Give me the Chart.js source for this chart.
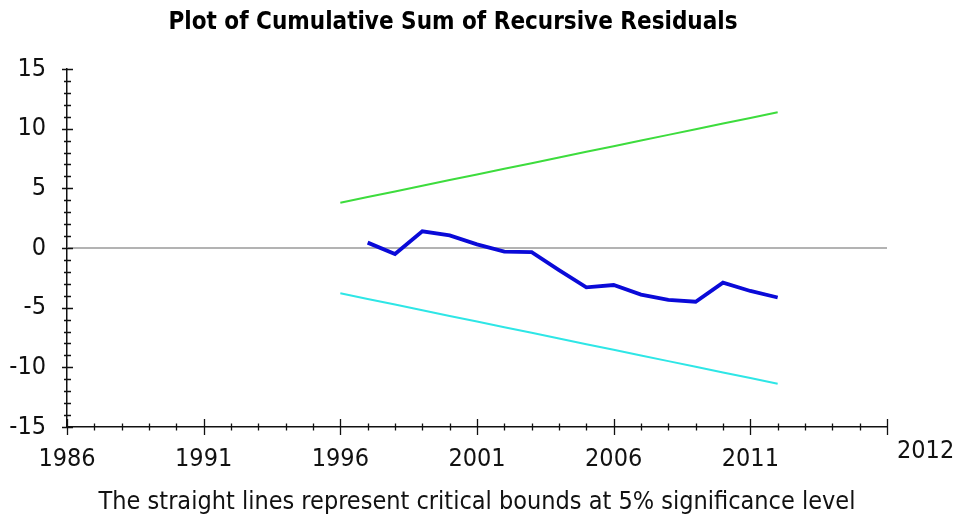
<!DOCTYPE html>
<html>
<head>
<meta charset="utf-8">
<script src="https://cdn.jsdelivr.net/npm/chart.js@4/dist/chart.umd.min.js"></script>
<style>
  html, body { margin: 0; padding: 0; background: #fff; }
  #wrap { width: 955px; height: 520px; }
</style>
</head>
<body>
<div id="wrap"><canvas id="c" width="955" height="520"></canvas></div>
<script>
// ---- data ----
const cusumYears = [1997, 1998, 1999, 2000, 2001, 2002, 2003, 2004, 2005, 2006, 2007, 2008, 2009, 2010, 2011, 2012];
const cusumValues = [0.45, -0.5, 1.4, 1.05, 0.3, -0.3, -0.35, -1.85, -3.3, -3.1, -3.9, -4.35, -4.5, -2.9, -3.6, -4.15];
const boundYears = [1996, 1997, 1998, 1999, 2000, 2001, 2002, 2003, 2004, 2005, 2006, 2007, 2008, 2009, 2010, 2011, 2012];
const upperBound = [3.79, 4.27, 4.74, 5.21, 5.69, 6.16, 6.64, 7.11, 7.58, 8.06, 8.53, 9.01, 9.48, 9.95, 10.43, 10.90, 11.38];
const lowerBound = [-3.79, -4.27, -4.74, -5.21, -5.69, -6.16, -6.64, -7.11, -7.58, -8.06, -8.53, -9.01, -9.48, -9.95, -10.43, -10.90, -11.38];
const xTickValues = [1986, 1991, 1996, 2001, 2006, 2011, 2016];
const xTickLabels = ['1986', '1991', '1996', '2001', '2006', '2011', '2012'];
const yTickValues = [-15, -10, -5, 0, 5, 10, 15];
const titleText = 'Plot of Cumulative Sum of Recursive Residuals';
const footText = 'The straight lines represent critical bounds at 5% significance level';

const FONT = "'Liberation Sans Narrow', 'Arial Narrow', 'DejaVu Sans Condensed', sans-serif";

const pts = (xs, ys) => xs.map((x, i) => ({ x: x, y: ys[i] }));

// tick marks (major + minor) crossing the axes, title, and the offset last x label
const axisMarks = {
  id: 'axisMarks',
  afterDraw(chart) {
    const ctx = chart.ctx;
    const xs = chart.scales.x, ys = chart.scales.y;
    const ax = xs.top, ay = ys.right;
    ctx.save();
    ctx.strokeStyle = '#111';
    ctx.lineWidth = 1.3;
    ctx.beginPath();
    for (let v = xs.min; v <= xs.max; v++) {
      const px = Math.round(xs.getPixelForValue(v)) + 0.5;
      const major = xTickValues.includes(v);
      const h = major ? 8 : 3.5;
      ctx.moveTo(px, ax - h); ctx.lineTo(px, ax + h);
    }
    for (let v = ys.min; v <= ys.max; v++) {
      const py = Math.round(ys.getPixelForValue(v)) + 0.5;
      const major = yTickValues.includes(v);
      const h1 = major ? 5 : 3;
      const h2 = major ? 6 : 4;
      ctx.moveTo(ay - h1, py); ctx.lineTo(ay + h2, py);
    }
    ctx.stroke();
    ctx.fillStyle = '#111';
    // last x label, drawn right of the final tick as in the reference
    ctx.font = '25px ' + FONT;
    ctx.textAlign = 'left';
    ctx.textBaseline = 'middle';
    ctx.fillText(xTickLabels[xTickLabels.length - 1], xs.getPixelForValue(xs.max) + 10, 451);
    // chart title
    ctx.fillStyle = '#000';
    ctx.font = 'bold 24px ' + FONT;
    ctx.textAlign = 'center';
    ctx.fillText(titleText, 453, 23);
    ctx.restore();
  }
};

new Chart(document.getElementById('c'), {
  type: 'line',
  data: {
    datasets: [
      { data: pts(cusumYears, cusumValues), borderColor: '#0a0ad8', borderWidth: 3.8, pointRadius: 0, tension: 0 },
      { data: pts(boundYears, upperBound), borderColor: '#3ddc3d', borderWidth: 2, pointRadius: 0, tension: 0 },
      { data: pts(boundYears, lowerBound), borderColor: '#2ee6e6', borderWidth: 2, pointRadius: 0, tension: 0 },
      { data: [{ x: xTickValues[0], y: 0 }, { x: xTickValues[xTickValues.length - 1], y: 0 }], borderColor: '#9a9a9a', borderWidth: 1.5, pointRadius: 0 }
    ]
  },
  options: {
    responsive: false,
    animation: false,
    devicePixelRatio: 1,
    layout: { padding: { left: 0, right: 68, top: 69, bottom: 0 } },
    plugins: {
      legend: { display: false },
      tooltip: { enabled: false },
      title: { display: false }
    },
    scales: {
      x: {
        type: 'linear',
        min: 1986,
        max: 2016,
        afterBuildTicks(s) { s.ticks = xTickValues.map(v => ({ value: v })); },
        afterFit(s) { s.height = 93; },
        grid: { display: false, drawTicks: false },
        border: { display: true, color: '#111', width: 1.5 },
        ticks: {
          color: '#111',
          font: { family: FONT, size: 25 },
          padding: 17,
          maxRotation: 0,
          autoSkip: false,
          callback(v) {
            const i = xTickValues.indexOf(v);
            return (i >= 0 && i < xTickValues.length - 1) ? xTickLabels[i] : '';
          }
        },
        title: {
          display: true,
          text: footText,
          color: '#111',
          font: { family: FONT, size: 25, lineHeight: 1.2 },
          padding: { top: 0, bottom: 3 }
        }
      },
      y: {
        type: 'linear',
        min: -15,
        max: 15,
        afterBuildTicks(s) { s.ticks = yTickValues.map(v => ({ value: v })); },
        afterFit(s) { s.width = 67; },
        grid: { display: false, drawTicks: false },
        border: { display: true, color: '#111', width: 1.5 },
        ticks: {
          color: '#111',
          font: { family: FONT, size: 25 },
          padding: 21
        }
      }
    }
  },
  plugins: [axisMarks]
});
</script>
</body>
</html>
